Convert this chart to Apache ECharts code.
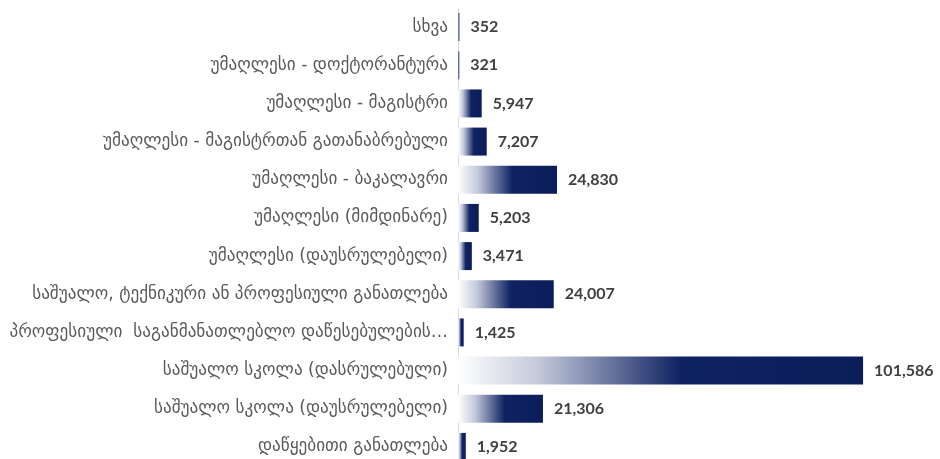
<!DOCTYPE html>
<html>
<head>
<meta charset="utf-8">
<script src="https://cdn.jsdelivr.net/npm/echarts@6/dist/echarts.min.js"></script>
<style>
  html, body { margin: 0; padding: 0; background: #fff; overflow: hidden; }
  #edu-chart { width: 940px; height: 470px; }
</style>
</head>
<body>
<div id="edu-chart"></div>
<script>
// categories listed bottom -> top (category axis draws first item at bottom)
const categories = [
  'დაწყებითი განათლება',
  'საშუალო სკოლა (დაუსრულებელი)',
  'საშუალო სკოლა (დასრულებული)',
  'პროფესიული  საგანმანათლებლო დაწესებულების…',
  'საშუალო, ტექნიკური ან პროფესიული განათლება',
  'უმაღლესი (დაუსრულებელი)',
  'უმაღლესი (მიმდინარე)',
  'უმაღლესი - ბაკალავრი',
  'უმაღლესი - მაგისტრთან გათანაბრებული',
  'უმაღლესი - მაგისტრი',
  'უმაღლესი - დოქტორანტურა',
  'სხვა'
]
const values = [1952, 21306, 101586, 1425, 24007, 3471, 5203, 24830, 7207, 5947, 321, 352]

const barColor = new echarts.graphic.LinearGradient(0, 0, 1, 0, [
  { offset: 0, color: '#ffffff' },
  { offset: 0.2, color: '#c3c9da' },
  { offset: 0.55, color: '#0f2262' },
  { offset: 1, color: '#0b1d5a' }
])

let myChart = echarts.init(document.getElementById('edu-chart'))
myChart.setOption({
  animation: false,
  grid: {
    left: 458,
    width: 478.5,
    top: 8,
    height: 458,
    containLabel: false,
    outerBoundsMode: 'none'
  },
  xAxis: {
    type: 'value',
    min: 0,
    max: 120000,
    show: false
  },
  yAxis: {
    type: 'category',
    data: categories,
    axisLine: { show: true, lineStyle: { color: '#d9d9d9', width: 1 } },
    axisTick: { show: false },
    axisLabel: {
      color: '#595959',
      fontSize: 17.2,
      fontFamily: 'DejaVu Sans',
      margin: 10
    }
  },
  series: [
    {
      type: 'bar',
      data: values,
      barWidth: 28,
      itemStyle: { color: barColor },
      label: {
        show: true,
        position: 'right',
        distance: 11,
        color: '#404040',
        fontWeight: 'bold',
        fontSize: 16,
        fontFamily: 'Lato',
        formatter: p => p.value.toLocaleString('en-US')
      }
    }
  ]
})
</script>
</body>
</html>
